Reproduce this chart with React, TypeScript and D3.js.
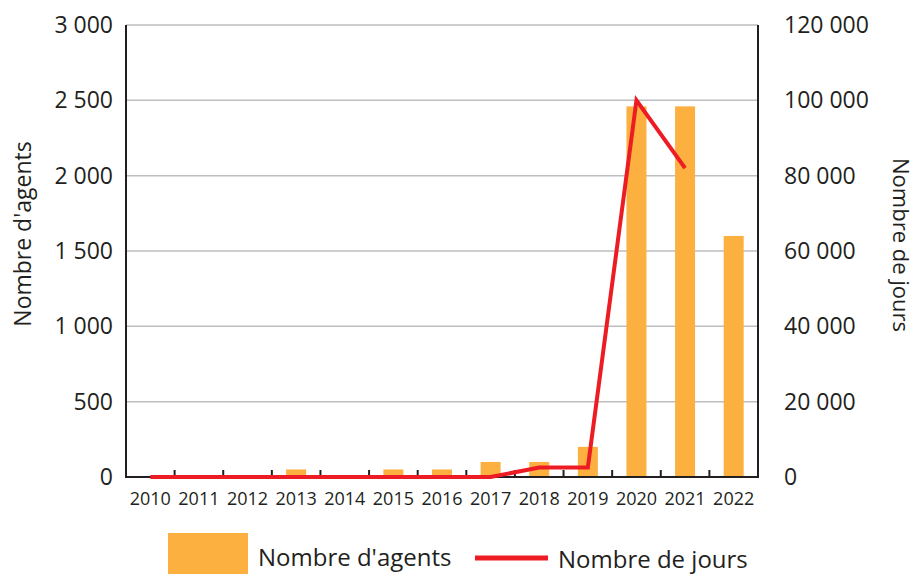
import * as d3 from "d3";
import React, { useEffect, useRef } from "react";

const years = ["2010", "2011", "2012", "2013", "2014", "2015", "2016", "2017", "2018", "2019", "2020", "2021", "2022"];
const agents = [0, 0, 0, 50, 0, 50, 50, 100, 100, 200, 2460, 2460, 1600];
const jours = [0, 0, 0, 0, 0, 0, 0, 0, 2500, 2500, 100000, 82000, null];
const leftTicks = [0, 500, 1000, 1500, 2000, 2500, 3000];
const rightTicks = [0, 20000, 40000, 60000, 80000, 100000, 120000];

const W = 920;
const H = 574;
const ORANGE = "#FBB040";
const RED = "#ED1C24";
const FONT = "'Open Sans', sans-serif";

export default function App() {
  const svgRef = useRef<SVGSVGElement>(null);

  useEffect(() => {
    document.body.style.margin = "0";
    const svg = d3.select(svgRef.current);
    svg.selectAll("*").remove();

    const left = 126;
    const right = 758;
    const top = 25;
    const bottom = 477;

    const x = d3.scaleBand<string>().domain(years).range([left, right]).paddingInner(0).paddingOuter(0);
    const yL = d3.scaleLinear().domain([0, 3000]).range([bottom, top]);
    const yR = d3.scaleLinear().domain([0, 120000]).range([bottom, top]);
    const fmt = (v: number) => d3.format(",")(v).replace(/,/g, " ");

    // gridlines
    svg
      .append("g")
      .selectAll("line")
      .data(leftTicks.filter((t) => t > 0))
      .join("line")
      .attr("x1", left)
      .attr("x2", right)
      .attr("y1", (d) => yL(d))
      .attr("y2", (d) => yL(d))
      .attr("stroke", "#BCBEC0")
      .attr("stroke-width", 1.5);

    // bars
    const barW = 20;
    svg
      .append("g")
      .selectAll("rect")
      .data(agents)
      .join("rect")
      .attr("x", (d, i) => x(years[i])! + x.bandwidth() / 2 - barW / 2)
      .attr("y", (d) => yL(d))
      .attr("width", barW)
      .attr("height", (d) => bottom - yL(d))
      .attr("fill", ORANGE);

    // axes lines
    const axisG = svg.append("g").attr("stroke", "#231F20").attr("stroke-width", 2);
    axisG.append("line").attr("x1", left).attr("x2", left).attr("y1", top).attr("y2", bottom + 1);
    axisG.append("line").attr("x1", right).attr("x2", right).attr("y1", top).attr("y2", bottom + 1);
    axisG.append("line").attr("x1", left - 1).attr("x2", right + 1).attr("y1", bottom).attr("y2", bottom);
    axisG
      .selectAll("line.tick")
      .data(years.slice(1))
      .join("line")
      .attr("class", "tick")
      .attr("x1", (d) => x(d)!)
      .attr("x2", (d) => x(d)!)
      .attr("y1", bottom)
      .attr("y2", bottom - 7);

    // line
    const line = d3
      .line<number | null>()
      .defined((d) => d !== null)
      .x((d, i) => x(years[i])! + x.bandwidth() / 2)
      .y((d) => yR(d as number));
    svg
      .append("path")
      .datum(jours)
      .attr("d", line)
      .attr("fill", "none")
      .attr("stroke", RED)
      .attr("stroke-width", 4);

    // tick labels
    const txt = svg.append("g").attr("font-family", FONT).attr("fill", "#231F20");
    txt
      .selectAll("text.yl")
      .data(leftTicks)
      .join("text")
      .attr("class", "yl")
      .attr("x", 113)
      .attr("y", (d) => yL(d) + 8)
      .attr("text-anchor", "end")
      .attr("font-size", 23)
      .text((d) => fmt(d));
    txt
      .selectAll("text.yr")
      .data(rightTicks)
      .join("text")
      .attr("class", "yr")
      .attr("x", 784)
      .attr("y", (d) => yR(d) + 8)
      .attr("text-anchor", "start")
      .attr("font-size", 23)
      .text((d) => fmt(d));
    txt
      .selectAll("text.xl")
      .data(years)
      .join("text")
      .attr("class", "xl")
      .attr("x", (d) => x(d)! + x.bandwidth() / 2)
      .attr("y", 505)
      .attr("text-anchor", "middle")
      .attr("font-size", 18)
      .text((d) => d);

    txt
      .append("text")
      .attr("transform", `translate(31,234) rotate(-90)`)
      .attr("text-anchor", "middle")
      .attr("font-size", 23)
      .text("Nombre d'agents");
    txt
      .append("text")
      .attr("transform", `translate(893,245) rotate(90)`)
      .attr("text-anchor", "middle")
      .attr("font-size", 22)
      .text("Nombre de jours");

    // legend
    const lg = svg.append("g").attr("font-family", FONT).attr("fill", "#231F20");
    lg.append("rect").attr("x", 168).attr("y", 533).attr("width", 80).attr("height", 41).attr("fill", ORANGE);
    lg.append("text").attr("x", 258).attr("y", 566).attr("font-size", 24).text("Nombre d'agents");
    lg.append("line")
      .attr("x1", 475)
      .attr("x2", 548)
      .attr("y1", 558)
      .attr("y2", 558)
      .attr("stroke", RED)
      .attr("stroke-width", 5);
    lg.append("text").attr("x", 558).attr("y", 568).attr("font-size", 24).text("Nombre de jours");
  }, []);

  return <svg ref={svgRef} width={W} height={H} style={{ display: "block", background: "#fff" }} />;
}
